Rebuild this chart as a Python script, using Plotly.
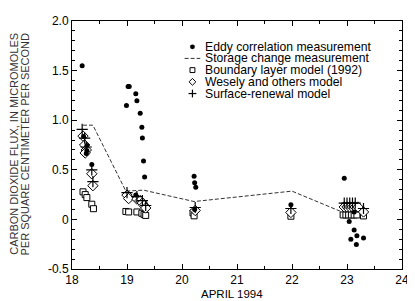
import plotly.graph_objects as go

# ---------------- data ----------------
eddy_x = [18.185, 18.21, 18.27, 18.27, 18.26, 18.36,
          18.99, 19.02, 19.04, 19.16, 19.18, 19.24, 19.27, 19.28, 19.30, 19.32, 19.16,
          20.22, 20.23, 20.25, 20.23,
          21.98,
          22.95, 23.04, 23.13, 23.13, 23.18, 23.07, 23.30, 23.17]
eddy_y = [1.548, 0.835, 0.746, 0.694, 0.665, 0.553,
          1.149, 1.339, 1.339, 1.267, 1.195, 1.07, 0.93, 0.82, 0.589, 0.428, 0.245,
          0.435, 0.369, 0.324, 0.10,
          0.147,
          0.416, -0.02, 0.075, -0.108, -0.164, -0.20, -0.187, -0.252]

storage_x = [18.2, 18.38, 18.98, 19.3, 20.22, 22.0, 22.93]
storage_y = [0.95, 0.95, 0.285, 0.295, 0.18, 0.285, 0.07]

boundary_x = [18.20, 18.24, 18.27, 18.36, 18.39,
              18.98, 19.03, 19.18, 19.27, 19.31, 19.34,
              20.20, 20.22,
              21.98,
              22.93, 22.98, 23.03, 23.08, 23.13, 23.18, 23.30]
boundary_y = [0.278, 0.25, 0.22, 0.153, 0.108,
              0.08, 0.075, 0.075, 0.062, 0.05, 0.04,
              0.065, 0.036,
              0.032,
              0.045, 0.045, 0.045, 0.045, 0.045, 0.045, 0.035]

wesely_x = [18.20, 18.23, 18.26, 18.24, 18.36, 18.38,
            19.00, 19.03, 19.18, 19.24, 19.28, 19.31, 19.34,
            20.24,
            21.98,
            22.95, 23.00, 23.05, 23.10, 23.15, 23.20, 23.30]
wesely_y = [0.84, 0.75, 0.70, 0.67, 0.46, 0.34,
            0.245, 0.21, 0.205, 0.19, 0.165, 0.14, 0.115,
            0.09,
            0.07,
            0.125, 0.125, 0.125, 0.125, 0.125, 0.125, 0.075]

renewal_x = [18.185, 18.23, 18.26, 18.36, 18.38,
             19.00, 19.18, 19.28, 19.34,
             20.24,
             21.98,
             22.95, 23.00, 23.05, 23.10, 23.15, 23.30]
renewal_y = [0.907, 0.82, 0.73, 0.50, 0.38,
             0.27, 0.23, 0.19, 0.14,
             0.12,
             0.11,
             0.165, 0.165, 0.165, 0.165, 0.165, 0.11]

legend_labels = ["Eddy correlation measurement",
                 "Storage change measurement",
                 "Boundary layer model (1992)",
                 "Wesely and others model",
                 "Surface-renewal model"]

x_tickvals = [18, 19, 20, 21, 22, 23, 24]
y_tickvals = [-0.5, 0, 0.5, 1.0, 1.5, 2.0]
y_ticktext = ["-0.5", "0", "0.5", "1.0", "1.5", "2.0"]

x_title = "APRIL 1994"
y_title_lines = ["CARBON DIOXIDE FLUX, IN MICROMOLES",
                 "PER SQUARE CENTIMETER PER SECOND"]

# ---------------- layout geometry (page pixels) ----------------
W, H = 415, 301
L, R, T, B = 72, 6, 15, 32      # desired plot-area margins on the page
OFF = 8                          # default body margin of the html page
PW, PH = W - L - R, H - T - B
FONT = "Liberation Sans, Arial, sans-serif"


def pxx(px):
    return (px - L) / PW


def pxy(py):
    return (H - B - py) / PH


fig = go.Figure()

fig.add_trace(go.Scatter(x=storage_x, y=storage_y, mode="lines",
                         line=dict(color="#333333", width=1, dash="4px,2px"),
                         showlegend=False))
fig.add_trace(go.Scatter(x=boundary_x, y=boundary_y, mode="markers",
                         marker=dict(symbol="square", size=6, color="white",
                                     line=dict(color="black", width=1)),
                         showlegend=False))
fig.add_trace(go.Scatter(x=wesely_x, y=wesely_y, mode="markers",
                         marker=dict(symbol="diamond", size=8, color="white",
                                     line=dict(color="black", width=1)),
                         showlegend=False))
fig.add_trace(go.Scatter(x=renewal_x, y=renewal_y, mode="markers",
                         marker=dict(symbol="cross-thin", size=8,
                                     line=dict(color="black", width=1.2)),
                         showlegend=False))
fig.add_trace(go.Scatter(x=eddy_x, y=eddy_y, mode="markers",
                         marker=dict(symbol="circle", size=5, color="black",
                                     line=dict(width=0)),
                         showlegend=False))

# ---------------- manual legend ----------------
kx = 195
rows = [41.5, 53.3, 65.3, 77.3, 89.3]
shapes = []
annotations = []
shapes.append(dict(type="circle", xref="paper", yref="paper",
                   x0=pxx(kx - 2.5), x1=pxx(kx + 2.5), y0=pxy(rows[0] + 2.5), y1=pxy(rows[0] - 2.5),
                   fillcolor="black", line=dict(width=0)))
shapes.append(dict(type="line", xref="paper", yref="paper",
                   x0=pxx(kx - 8), x1=pxx(kx + 8), y0=pxy(rows[1]), y1=pxy(rows[1]),
                   line=dict(color="#333333", width=1, dash="4px,2px")))
shapes.append(dict(type="rect", xref="paper", yref="paper",
                   x0=pxx(kx - 2.5), x1=pxx(kx + 2.5), y0=pxy(rows[2] + 2.5), y1=pxy(rows[2] - 2.5),
                   fillcolor="white", line=dict(color="black", width=1)))
d = 3.5
yc = rows[3]
shapes.append(dict(type="path", xref="paper", yref="paper",
                   path=f"M {pxx(kx)} {pxy(yc - d)} L {pxx(kx + d)} {pxy(yc)} L {pxx(kx)} {pxy(yc + d)} L {pxx(kx - d)} {pxy(yc)} Z",
                   fillcolor="white", line=dict(color="black", width=1)))
yc = rows[4]
shapes.append(dict(type="line", xref="paper", yref="paper",
                   x0=pxx(kx - 4), x1=pxx(kx + 4), y0=pxy(yc), y1=pxy(yc),
                   line=dict(color="black", width=1.2)))
shapes.append(dict(type="line", xref="paper", yref="paper",
                   x0=pxx(kx), x1=pxx(kx), y0=pxy(yc - 4), y1=pxy(yc + 4),
                   line=dict(color="black", width=1.2)))

for lbl, ry in zip(legend_labels, rows):
    annotations.append(dict(text=lbl, xref="paper", yref="paper",
                            x=pxx(207), y=pxy(ry), xanchor="left", yanchor="middle",
                            borderpad=0,
                            showarrow=False, font=dict(size=12.2, color="black", family=FONT)))

annotations.append(dict(text=x_title, xref="paper", yref="paper",
                        x=pxx(235), y=pxy(294.5), xanchor="center", yanchor="middle",
                        borderpad=0,
                        showarrow=False, font=dict(size=11.5, color="black", family=FONT)))
for line_txt, lx in zip(y_title_lines, [12.5, 24.5]):
    annotations.append(dict(text=line_txt, xref="paper", yref="paper",
                            x=pxx(lx), y=pxy(141), xanchor="center", yanchor="middle",
                            textangle=-90, showarrow=False, borderpad=0,
                            font=dict(size=11, color="#333333", family=FONT)))

axis_common = dict(showline=True, linecolor="black", linewidth=1, mirror="ticks",
                   ticks="inside", ticklen=5, tickwidth=1, tickcolor="black",
                   showgrid=False, zeroline=False,
                   tickfont=dict(size=12, color="black", family=FONT))

fig.update_xaxes(range=[18, 24], tickvals=x_tickvals,
                 minor=dict(dtick=0.5, tick0=18, ticks="inside", ticklen=3, tickcolor="black", showgrid=False),
                 **axis_common)
fig.update_yaxes(range=[-0.5, 2.0], tickvals=y_tickvals, ticktext=y_ticktext,
                 minor=dict(dtick=0.1, tick0=0, ticks="inside", ticklen=3, tickcolor="black", showgrid=False),
                 **axis_common)

# the page body adds an 8px offset at top-left; size the figure so it ends at the window edge
fig.update_layout(width=W - OFF, height=H - OFF,
                  margin=dict(l=L - OFF, r=R, t=T - OFF, b=B),
                  paper_bgcolor="white", plot_bgcolor="white",
                  shapes=shapes, annotations=annotations, showlegend=False,
                  font=dict(family=FONT))

fig.write_html("out.html")
